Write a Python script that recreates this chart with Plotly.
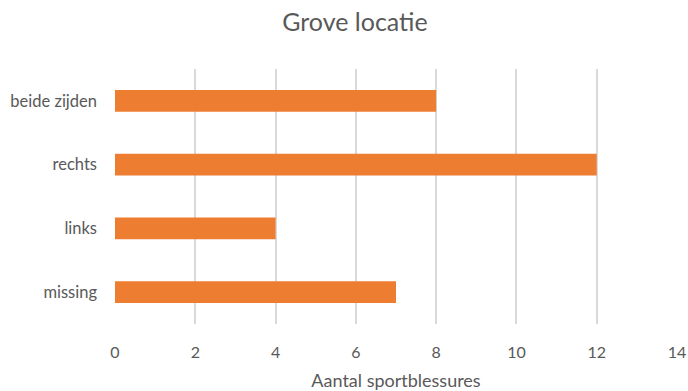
import plotly.graph_objects as go

# Injury locations and counts (top to bottom)
categories = ["beide zijden", "rechts", "links", "missing"]
counts = [8, 12, 4, 7]
x_ticks = [0, 2, 4, 6, 8, 10, 12, 14]

BAR_COLOR = "#ED7D31"
TEXT_COLOR = "#595959"
GRID_COLOR = "#D9D9D9"
FONT = "Lato, 'Open Sans', sans-serif"

fig = go.Figure(
    go.Bar(
        x=counts,
        y=categories,
        orientation="h",
        marker=dict(color=BAR_COLOR, line=dict(width=0)),
    )
)

fig.update_layout(
    width=688,
    height=391,
    margin=dict(l=115, r=11, t=69, b=67, autoexpand=False),
    paper_bgcolor="white",
    plot_bgcolor="white",
    bargap=0.655,
    showlegend=False,
    font=dict(family=FONT, color=TEXT_COLOR, size=16),
    title=dict(
        text="Grove locatie",
        x=0.427,
        xref="paper",
        xanchor="center",
        y=0.943,
        yref="container",
        yanchor="middle",
        font=dict(family=FONT, size=25, color=TEXT_COLOR),
    ),
)

fig.update_xaxes(
    range=[0, 14],
    tickvals=x_ticks,
    ticktext=[str(v) for v in x_ticks],
    showgrid=True,
    gridcolor=GRID_COLOR,
    gridwidth=1.5,
    zeroline=False,
    showline=False,
    ticks="",
    automargin=False,
    ticklabelstandoff=17,
    tickfont=dict(size=16, color=TEXT_COLOR),
    title=dict(text="Aantal sportblessures", font=dict(size=18, color=TEXT_COLOR), standoff=14),
    fixedrange=True,
)

fig.update_yaxes(
    categoryorder="array",
    categoryarray=list(reversed(categories)),
    showgrid=False,
    zeroline=False,
    showline=False,
    ticks="",
    automargin=False,
    ticklabelstandoff=17,
    tickfont=dict(size=16.5, color=TEXT_COLOR),
    fixedrange=True,
)

fig.write_html("out.html")
